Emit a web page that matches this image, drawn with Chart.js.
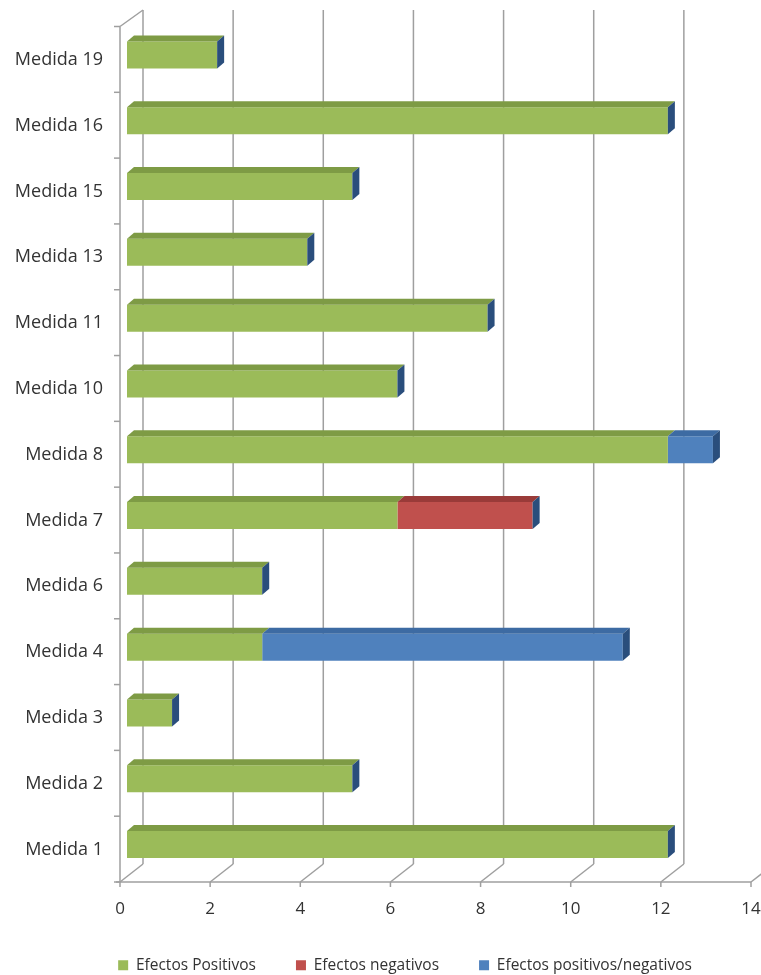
<!DOCTYPE html>
<html>
<head>
<meta charset="utf-8">
<script src="https://cdn.jsdelivr.net/npm/chart.js@4.4.0/dist/chart.umd.min.js"></script>
<style>
  html, body { margin: 0; background: #fff; }
  #wrap { width: 761px; height: 975px; }
</style>
</head>
<body>
<div id="wrap"><canvas id="chart"></canvas></div>
<script>
const CATEGORIES = ['Medida 19', 'Medida 16', 'Medida 15', 'Medida 13', 'Medida 11', 'Medida 10',
  'Medida 8', 'Medida 7', 'Medida 6', 'Medida 4', 'Medida 3', 'Medida 2', 'Medida 1'];
const POSITIVOS = [2, 12, 5, 4, 8, 6, 12, 6, 3, 3, 1, 5, 12];
const NEGATIVOS = [0, 0, 0, 0, 0, 0, 0, 3, 0, 0, 0, 0, 0];
const MIXTOS    = [0, 0, 0, 0, 0, 0, 1, 0, 0, 8, 0, 0, 0];
const X_TICKS = [0, 2, 4, 6, 8, 10, 12, 14];

const FRONT = ['#9BBB59', '#C0504D', '#4F81BD'];
const TOPS  = ['#7E9B45', '#9A3B39', '#3D6BA3'];
const SIDE  = '#2A4E7C';
const LINE  = '#9f9f9f';
const FONT  = '"Open Sans", sans-serif';

// profundidad del efecto 3D
const BAR_DX = 7, BAR_DY = 6;
const FRONT_DX = -7, FRONT_DY = 4.5;
const BACK_DX = 16, BACK_DY = -13.5;

function line(ctx, x1, y1, x2, y2) {
  ctx.beginPath(); ctx.moveTo(x1, y1); ctx.lineTo(x2, y2); ctx.stroke();
}
function poly(ctx, pts, color) {
  ctx.beginPath();
  ctx.moveTo(pts[0][0], pts[0][1]);
  pts.slice(1).forEach(p => ctx.lineTo(p[0], p[1]));
  ctx.closePath();
  ctx.fillStyle = color;
  ctx.fill();
}

// paredes, suelo y rejilla
const frame3d = {
  id: 'frame3d',
  afterLayout(chart) {
    // leyenda algo desplazada a la derecha, como en el original
    if (chart.legend) { chart.legend.left += 26; chart.legend.right += 26; }
  },
  beforeDatasetsDraw(chart) {
    const { ctx, scales: { x, y } } = chart;
    ctx.save();
    ctx.strokeStyle = LINE;
    ctx.lineWidth = 1.5;
    const floorF = y.bottom + FRONT_DY, floorB = y.bottom + BACK_DY, topB = y.top - 12;
    X_TICKS.forEach(v => {
      const px = x.getPixelForValue(v);
      line(ctx, px + BACK_DX, topB, px + BACK_DX, floorB);
      line(ctx, px + FRONT_DX, floorF, px + BACK_DX, floorB);
      line(ctx, px + FRONT_DX, floorF, px + FRONT_DX, floorF + 5);
    });
    const lx = x.getPixelForValue(0) + FRONT_DX;
    line(ctx, lx - 4, floorF, x.getPixelForValue(14) + FRONT_DX, floorF);
    line(ctx, lx, y.top + FRONT_DY, lx, floorF);
    line(ctx, lx, y.top + FRONT_DY, lx + BACK_DX - FRONT_DX, topB);
    const step = (y.bottom - y.top) / CATEGORIES.length;
    for (let i = 0; i <= CATEGORIES.length; i++) {
      const yy = y.top + i * step + FRONT_DY;
      line(ctx, lx - 6, yy, lx, yy);
    }
    ctx.restore();
  },
  afterDatasetsDraw(chart) {
    const { ctx } = chart;
    const ds = chart.data.datasets;
    ctx.save();
    CATEGORIES.forEach((_, i) => {
      let last = -1;
      ds.forEach((d, k) => { if (d.data[i] > 0) last = k; });
      ds.forEach((d, k) => {
        if (!(d.data[i] > 0)) return;
        const el = chart.getDatasetMeta(k).data[i];
        const { x: xe, base: xb, y: yc, height: h } = el.getProps(['x', 'base', 'y', 'height'], true);
        const top = yc - h / 2;
        poly(ctx, [[xb, top], [xb + BAR_DX, top - BAR_DY], [xe + BAR_DX, top - BAR_DY], [xe, top]], TOPS[k]);
        if (k === last) {
          poly(ctx, [[xe, top], [xe + BAR_DX, top - BAR_DY], [xe + BAR_DX, top + h - BAR_DY], [xe, top + h]], SIDE);
        }
      });
    });
    ctx.restore();
  }
};

const mkSet = (label, data, k) => ({
  label, data, backgroundColor: FRONT[k], borderWidth: 0,
  barPercentage: 0.41, categoryPercentage: 1,
});

new Chart(document.getElementById('chart'), {
  type: 'bar',
  data: {
    labels: CATEGORIES,
    datasets: [
      mkSet('Efectos Positivos', POSITIVOS, 0),
      mkSet('Efectos negativos', NEGATIVOS, 1),
      mkSet('Efectos positivos/negativos', MIXTOS, 2),
    ],
  },
  options: {
    indexAxis: 'y',
    responsive: true,
    maintainAspectRatio: false,
    animation: false,
    layout: { padding: { top: 22, left: 0, right: 3, bottom: -8 } },
    plugins: {
      tooltip: { enabled: false },
      legend: {
        position: 'bottom',
        labels: { boxWidth: 10, boxHeight: 10, padding: 40, color: '#333', font: { family: FONT, size: 15.5 } },
      },
    },
    scales: {
      x: {
        stacked: true, min: 0, max: 14,
        grid: { display: false, drawTicks: false },
        border: { display: false },
        ticks: { stepSize: 2, labelOffset: FRONT_DX, padding: 21, color: '#333', font: { family: FONT, size: 17 } },
        afterFit(s) { s.paddingRight = 0; s.height = 40; },
      },
      y: {
        stacked: true,
        grid: { display: false, drawTicks: false },
        border: { display: false },
        ticks: { labelOffset: 5, padding: 24, color: '#333', font: { family: FONT, size: 18 } },
        afterFit(s) { s.width = 127; s.paddingTop = 0; s.paddingBottom = 0; },
      },
    },
  },
  plugins: [frame3d],
});
</script>
</body>
</html>
